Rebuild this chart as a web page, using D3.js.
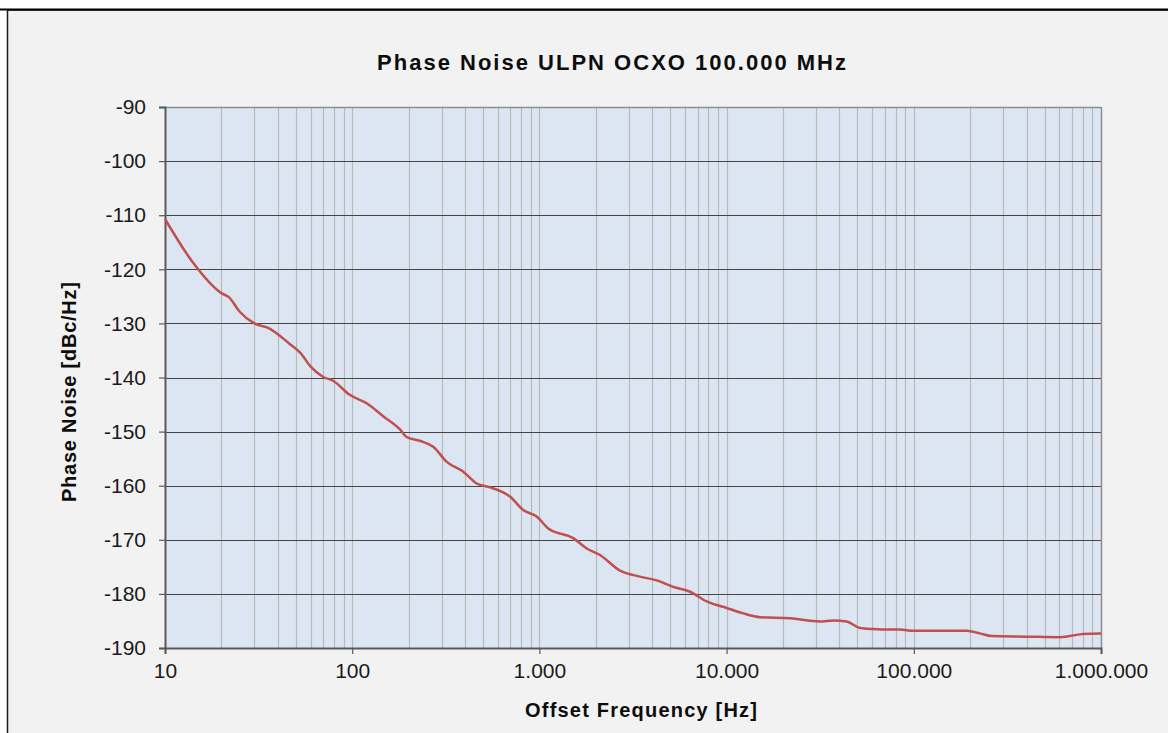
<!DOCTYPE html>
<html>
<head>
<meta charset="utf-8">
<script src="https://cdn.jsdelivr.net/npm/d3@7/dist/d3.min.js"></script>
<style>
  html, body { margin: 0; padding: 0; background: #ffffff; }
  svg { display: block; }
  text { font-family: "Liberation Sans", Arial, sans-serif; }
</style>
</head>
<body>
<svg id="chart" width="1168" height="733"></svg>
<script>
// ---- data ----
const freqHz = [10, 14, 20, 22, 25, 30, 36, 46, 53, 60, 70, 79, 97, 120, 147, 180, 195, 230, 271, 320, 392, 462, 545, 696, 820, 967, 1115, 1517, 1789, 2107, 2696, 3446, 4232, 5192, 6375, 7830, 10000, 12280, 15080, 21820, 31540, 37150, 43800, 51600, 60770, 71670, 84400, 99400, 138000, 191700, 225700, 260700, 401000, 600000, 680000, 800000, 1000000];
const phaseNoise = [-110.7, -118.6, -124.4, -125.2, -127.8, -130.0, -130.9, -133.7, -135.5, -138.0, -139.9, -140.6, -143.2, -144.8, -147.2, -149.6, -151.0, -151.7, -152.8, -155.6, -157.4, -159.6, -160.3, -162.0, -164.5, -165.7, -167.9, -169.7, -171.6, -172.8, -175.7, -176.8, -177.5, -178.7, -179.6, -181.4, -182.6, -183.6, -184.3, -184.5, -185.1, -184.9, -185.1, -186.3, -186.5, -186.6, -186.6, -186.8, -186.8, -186.8, -187.3, -187.8, -187.9, -188.0, -187.8, -187.4, -187.3];
const xTickValues = [10, 100, 1000, 10000, 100000, 1000000];
const xTickLabels = ["10", "100", "1.000", "10.000", "100.000", "1.000.000"];
const yTickValues = [-90, -100, -110, -120, -130, -140, -150, -160, -170, -180, -190];
const yTickLabels = ["-90", "-100", "-110", "-120", "-130", "-140", "-150", "-160", "-170", "-180", "-190"];
const titleText = "Phase Noise ULPN OCXO 100.000 MHz";
const xLabelText = "Offset Frequency [Hz]";
const yLabelText = "Phase Noise [dBc/Hz]";

// ---- layout ----
const svg = d3.select("#chart");
const W = 1168, H = 733;
const plot = { left: 165, top: 107, right: 1101, bottom: 648 };

// outer frame
svg.append("rect").attr("x", 0).attr("y", 0).attr("width", W).attr("height", H).attr("fill", "#ffffff");
svg.append("rect").attr("x", 7.5).attr("y", 10).attr("width", W + 10).attr("height", H + 10)
  .attr("fill", "#f2f2f2").attr("stroke", "#1a1a1a").attr("stroke-width", 1.5);
svg.append("line").attr("x1", 0).attr("x2", W).attr("y1", 9.5).attr("y2", 9.5)
  .attr("stroke", "#000").attr("stroke-width", 2);

const x = d3.scaleLog().domain([10, 1000000]).range([plot.left, plot.right]);
const y = d3.scaleLinear().domain([-190, -90]).range([plot.bottom, plot.top]);

// plot background
svg.append("rect").attr("x", plot.left).attr("y", plot.top)
  .attr("width", plot.right - plot.left).attr("height", plot.bottom - plot.top)
  .attr("fill", "#dce6f2");

// vertical log grid (minor + major)
const vTicks = [];
for (let d = 10; d < 1000000; d *= 10) {
  for (let m = 1; m <= 9; m++) vTicks.push(d * m);
}
svg.append("g").selectAll("line").data(vTicks.filter(v => v > 10 && v < 1000000)).join("line")
  .attr("x1", d => Math.round(x(d)) + 0.5).attr("x2", d => Math.round(x(d)) + 0.5)
  .attr("y1", plot.top).attr("y2", plot.bottom)
  .attr("stroke", "#b9b9b9").attr("stroke-width", 1.2);

// horizontal grid
svg.append("g").selectAll("line").data(yTickValues.filter(v => v > -190)).join("line")
  .attr("x1", plot.left).attr("x2", plot.right)
  .attr("y1", d => Math.round(y(d)) + 0.5).attr("y2", d => Math.round(y(d)) + 0.5)
  .attr("stroke", "#444444").attr("stroke-width", 1.2);

// plot border (right + top grey)
svg.append("line").attr("x1", plot.right + 0.5).attr("x2", plot.right + 0.5).attr("y1", plot.top).attr("y2", plot.bottom)
  .attr("stroke", "#8c8c8c").attr("stroke-width", 1.5);
svg.append("line").attr("x1", plot.left).attr("x2", plot.right).attr("y1", plot.top + 0.5).attr("y2", plot.top + 0.5)
  .attr("stroke", "#8c8c8c").attr("stroke-width", 1.5);

// axes
const yAxis = d3.axisLeft(y).tickValues(yTickValues).tickSize(6).tickPadding(13)
  .tickFormat((d, i) => yTickLabels[i]);
const gy = svg.append("g").attr("transform", `translate(${plot.left},0)`).call(yAxis);
const xAxis = d3.axisBottom(x).tickValues(xTickValues).tickSize(6).tickPadding(7)
  .tickFormat((d, i) => xTickLabels[i]);
const gx = svg.append("g").attr("transform", `translate(0,${plot.bottom})`).call(xAxis);
[gx, gy].forEach(g => {
  g.select(".domain").attr("stroke", "#595959").attr("stroke-width", 2);
  g.selectAll(".tick line").attr("stroke", "#595959").attr("stroke-width", 1.2);
  g.selectAll(".tick text").attr("font-family", "Liberation Sans, Arial, sans-serif")
    .style("font-size", "21px").attr("fill", "#1a1a1a");
});
gx.selectAll(".tick text").attr("dy", "0.82em");

// line
const line = d3.line().x((d, i) => x(freqHz[i])).y(d => y(d)).curve(d3.curveMonotoneX);
svg.append("path").datum(phaseNoise).attr("d", line)
  .attr("fill", "none").attr("stroke", "#c0504d").attr("stroke-width", 2.5)
  .attr("stroke-linejoin", "round");

// titles
svg.append("text").attr("x", 611.5).attr("y", 70).attr("text-anchor", "middle")
  .style("font-size", "22px").attr("font-weight", "bold").attr("fill", "#0d0d0d")
  .attr("textLength", 469).attr("lengthAdjust", "spacing").text(titleText);
svg.append("text").attr("x", 641).attr("y", 717).attr("text-anchor", "middle")
  .style("font-size", "20px").attr("font-weight", "bold").attr("fill", "#0d0d0d")
  .attr("textLength", 232).attr("lengthAdjust", "spacing").text(xLabelText);
svg.append("text").attr("transform", "translate(76,392) rotate(-90)").attr("text-anchor", "middle")
  .style("font-size", "20px").attr("font-weight", "bold").attr("fill", "#0d0d0d")
  .attr("textLength", 220).attr("lengthAdjust", "spacing").text(yLabelText);
</script>
</body>
</html>
